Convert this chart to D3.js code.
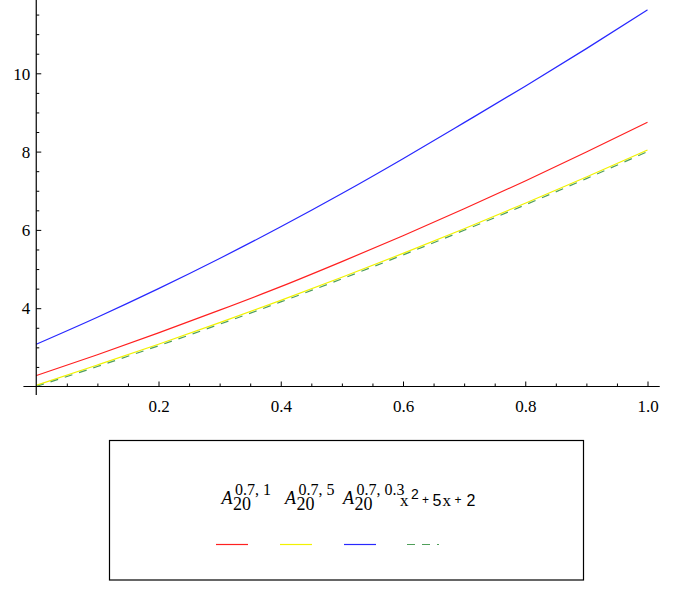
<!DOCTYPE html>
<html><head><meta charset="utf-8">
<script src="https://cdn.jsdelivr.net/npm/d3@7"></script>
<style>body{margin:0;background:#fff}svg{display:block}
.serif{font-family:"Liberation Serif","Times New Roman",Times,"DejaVu Serif",serif}
.sans{font-family:"Liberation Sans",Arial,Helvetica,sans-serif}
</style>
</head><body>
<script>
const xs = [0,0.1,0.2,0.3,0.4,0.5,0.6,0.7,0.8,0.9,1.0];
const redVals    = [2.28,2.81,3.37,3.95,4.55,5.19,5.85,6.54,7.25,7.99,8.75];
const yellowVals = [2.03,2.55,3.08,3.63,4.20,4.79,5.40,6.03,6.68,7.35,8.04];
const blueVals   = [3.08,3.77,4.50,5.27,6.08,6.93,7.82,8.74,9.67,10.63,11.62];
const greenVals  = [2.00,2.51,3.04,3.59,4.16,4.75,5.36,5.99,6.64,7.31,8.00];
const xMajor = [0.2,0.4,0.6,0.8,1.0];
const xMajorLabels = ["0.2","0.4","0.6","0.8","1.0"];
const yMajor = [4,6,8,10];
const yMajorLabels = ["4","6","8","10"];
const series = [
  {name:"A1", vals: redVals, color:"#ff2020", dash:null, sup:"0.7, 1"},
  {name:"A5", vals: yellowVals, color:"#f2f200", dash:null, sup:"0.7, 5"},
  {name:"A03", vals: blueVals, color:"#2828ff", dash:null, sup:"0.7, 0.3"},
  {name:"poly", vals: greenVals, color:"#4f9f5a", dash:"8,7", sup:null}
];
const polyParts = [
  {t:"x", cls:"serif", size:17, dx:0,    dy:0},
  {t:"2", cls:"sans",  size:14, dx:11,   dy:-7},
  {t:"+", cls:"sans",  size:12, dx:22,   dy:-2},
  {t:"5", cls:"sans",  size:16, dx:32.5, dy:0},
  {t:"x", cls:"serif", size:17, dx:42.5, dy:0},
  {t:"+", cls:"sans",  size:12, dx:54.5, dy:-2},
  {t:"2", cls:"sans",  size:16, dx:66.5, dy:0}
];

const W=684,H=611;
const svg=d3.select("body").append("svg").attr("width",W).attr("height",H);
const x=d3.scaleLinear().domain([0,1]).range([36.25,647.5]);
const y=d3.scaleLinear().domain([2,10]).range([386.5,73.3]);

const line=d3.line().x((d,i)=>x(xs[i])).y(d=>y(d)).curve(d3.curveMonotoneX);
series.forEach(s=>{
  svg.append("path").attr("d",line(s.vals)).attr("fill","none")
    .attr("stroke",s.color).attr("stroke-width",1.2)
    .attr("stroke-dasharray",s.dash);
});

const ax=svg.append("g").attr("stroke","#000").attr("stroke-width",1.2);
ax.append("line").attr("x1",x(-0.021)).attr("x2",x(1.02)).attr("y1",y(2)).attr("y2",y(2));
ax.append("line").attr("x1",x(0)).attr("x2",x(0)).attr("y1",0).attr("y2",y(1.78));

const xMinor=d3.range(1,21).map(i=>i*0.05).filter(v=>!xMajor.some(m=>Math.abs(m-v)<1e-9));
const gx=svg.append("g").attr("transform",`translate(0,${y(2)})`)
  .call(d3.axisBottom(x).tickValues(xMajor).tickSize(-5).tickFormat((d,i)=>xMajorLabels[i]));
gx.attr("font-family",null).attr("font-size",null);
gx.select(".domain").remove();
gx.selectAll("line").attr("stroke","#000");
gx.selectAll("text").attr("class","serif").style("font-size","17px").attr("fill","#000").attr("dy","0").attr("y",25);
const gx2=svg.append("g").attr("transform",`translate(0,${y(2)})`).call(d3.axisBottom(x).tickValues(xMinor).tickSize(-3).tickFormat(""));
gx2.select(".domain").remove(); gx2.selectAll("line").attr("stroke","#000");

const yMinor=d3.range(5,24).map(i=>i*0.5).filter(v=>!yMajor.includes(v)&&v>2);
const gy=svg.append("g").attr("transform",`translate(${x(0)},0)`)
  .call(d3.axisLeft(y).tickValues(yMajor).tickSize(-5).tickFormat((d,i)=>yMajorLabels[i]));
gy.attr("font-family",null).attr("font-size",null);
gy.select(".domain").remove(); gy.selectAll("line").attr("stroke","#000");
gy.selectAll("text").attr("class","serif").style("font-size","17px").attr("fill","#000").attr("x",-6).attr("dy","0.34em");
const gy2=svg.append("g").attr("transform",`translate(${x(0)},0)`).call(d3.axisLeft(y).tickValues(yMinor).tickSize(-3).tickFormat(""));
gy2.select(".domain").remove(); gy2.selectAll("line").attr("stroke","#000");

// legend
svg.append("rect").attr("x",109.5).attr("y",440.5).attr("width",474).attr("height",139.5)
  .attr("fill","none").attr("stroke","#000").attr("stroke-width",1.2);
const aX=[221.5,285,343];
series.slice(0,3).forEach((s,i)=>{
  const g=svg.append("g").attr("fill","#000");
  g.append("text").attr("class","serif").attr("x",aX[i]).attr("y",504).style("font-size","18px").style("font-style","italic").text("A");
  g.append("text").attr("class","serif").attr("x",aX[i]+11.5).attr("y",510).style("font-size","18px").text("20");
  g.append("text").attr("class","serif").attr("x",aX[i]+13.5).attr("y",495).style("font-size","16px").text(s.sup);
});
polyParts.forEach(p=>{
  svg.append("text").attr("class",p.cls).attr("x",400+p.dx).attr("y",506+p.dy)
    .attr("fill","#000").style("font-size",p.size+"px").text(p.t);
});

const lx=[216,280,344,407];
series.forEach((s,i)=>{
  svg.append("line").attr("x1",lx[i]).attr("x2",lx[i]+32).attr("y1",544.5).attr("y2",544.5)
    .attr("stroke",s.color).attr("stroke-width",1.2).attr("stroke-dasharray",s.dash);
});
</script>
</body></html>
